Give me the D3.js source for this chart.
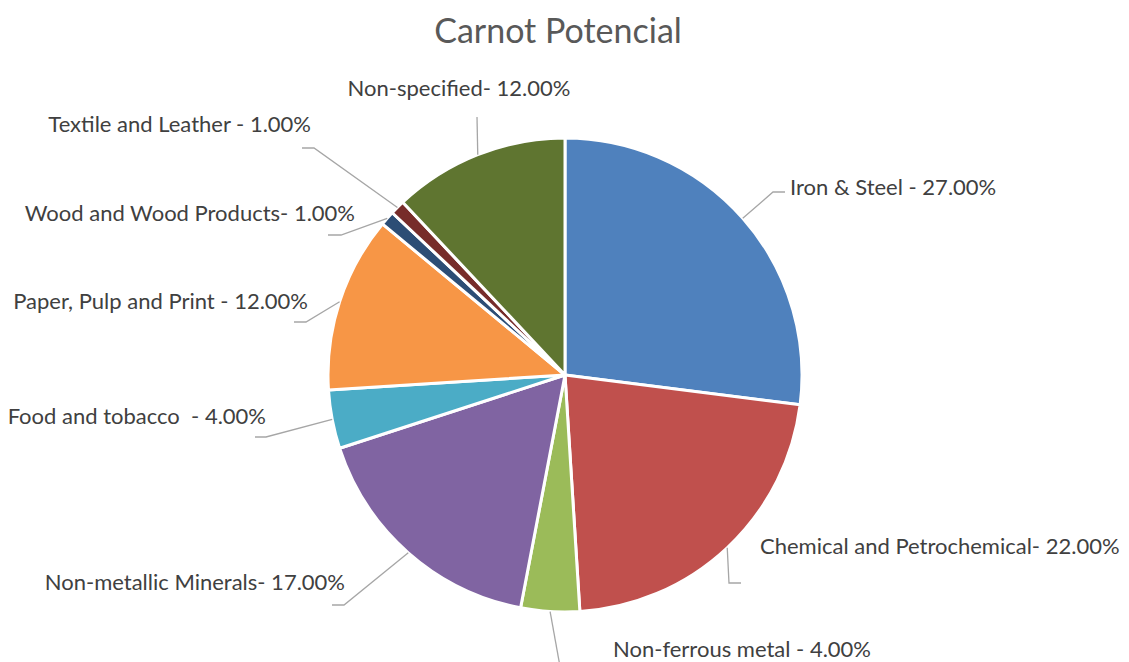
<!DOCTYPE html>
<html>
<head>
<meta charset="utf-8">
<script src="https://cdn.jsdelivr.net/npm/d3@7"></script>
<style>
  html, body { margin: 0; padding: 0; background: #fff; }
  svg text { font-family: Lato, "Open Sans", sans-serif; white-space: pre; }
</style>
</head>
<body>
<svg id="chart" width="1129" height="662"></svg>
<script>
// Carnot potential share by industrial sector
const categories = [
  "Iron & Steel ",
  "Chemical and Petrochemical",
  "Non-ferrous metal ",
  "Non-metallic Minerals",
  "Food and tobacco  ",
  "Paper, Pulp and Print ",
  "Wood and Wood Products",
  "Textile and Leather ",
  "Non-specified"
];
const shares = [27, 22, 4, 17, 4, 12, 1, 1, 12];
const colors = [
  "#4F81BD", "#C0504D", "#9BBB59", "#8064A2", "#4BACC6",
  "#F79646", "#2C4D75", "#772C2A", "#5F7530"
];

// Label placement: elbow point, end of horizontal leader, text anchor point
const labelLayout = [
  { ex: 773, ey: 192, hx: 785, tx: 790, ty: 186, anchor: "start" },
  { ex: 729, ey: 583, hx: 741, tx: 760, ty: 545, anchor: "start" },
  { ex: 561, ey: 672, hx: 561, tx: 613, ty: 648, anchor: "start" },
  { ex: 344, ey: 605, hx: 332, tx: 345, ty: 581, anchor: "end" },
  { ex: 266, ey: 437, hx: 255, tx: 266, ty: 415, anchor: "end" },
  { ex: 306, ey: 322, hx: 294, tx: 308, ty: 300, anchor: "end" },
  { ex: 341, ey: 235, hx: 328, tx: 355, ty: 212, anchor: "end" },
  { ex: 314, ey: 148, hx: 302, tx: 311, ty: 123, anchor: "end" },
  { ex: 477, ey: 117, hx: 477, tx: 459, ty: 87, anchor: "middle" }
];

const svg = d3.select("#chart");
const cx = 565, cy = 375, radius = 237;

svg.append("text")
  .attr("x", 558).attr("y", 29)
  .attr("text-anchor", "middle")
  .attr("dominant-baseline", "central")
  .attr("fill", "#595959")
  .attr("font-size", 34)
  .text("Carnot Potencial");

const data = categories.map((c, i) => ({ name: c, value: shares[i], color: colors[i], layout: labelLayout[i] }));

const pie = d3.pie().sort(null).value(d => d.value);
const arcs = pie(data);
const arc = d3.arc().innerRadius(0).outerRadius(radius);

const g = svg.append("g").attr("transform", `translate(${cx},${cy})`);

g.selectAll("path.slice")
  .data(arcs)
  .join("path")
  .attr("class", "slice")
  .attr("d", arc)
  .attr("fill", d => d.data.color)
  .attr("stroke", "#fff")
  .attr("stroke-width", 3)
  .attr("stroke-linejoin", "round");

// Leader lines from the middle of each slice's outer edge
const leaders = svg.append("g");
arcs.forEach(a => {
  const mid = (a.startAngle + a.endAngle) / 2;
  const px = cx + radius * Math.sin(mid);
  const py = cy - radius * Math.cos(mid);
  const L = a.data.layout;
  leaders.append("polyline")
    .attr("points", `${px},${py} ${L.ex},${L.ey} ${L.hx},${L.ey}`)
    .attr("fill", "none")
    .attr("stroke", "#A6A6A6")
    .attr("stroke-width", 1.3);
});

svg.append("g").selectAll("text")
  .data(arcs)
  .join("text")
  .attr("x", d => d.data.layout.tx)
  .attr("y", d => d.data.layout.ty)
  .attr("text-anchor", d => d.data.layout.anchor)
  .attr("dominant-baseline", "central")
  .attr("fill", "#404040")
  .attr("font-size", 22)
  .text(d => `${d.data.name}- ${d.data.value.toFixed(2)}%`);
</script>
</body>
</html>
